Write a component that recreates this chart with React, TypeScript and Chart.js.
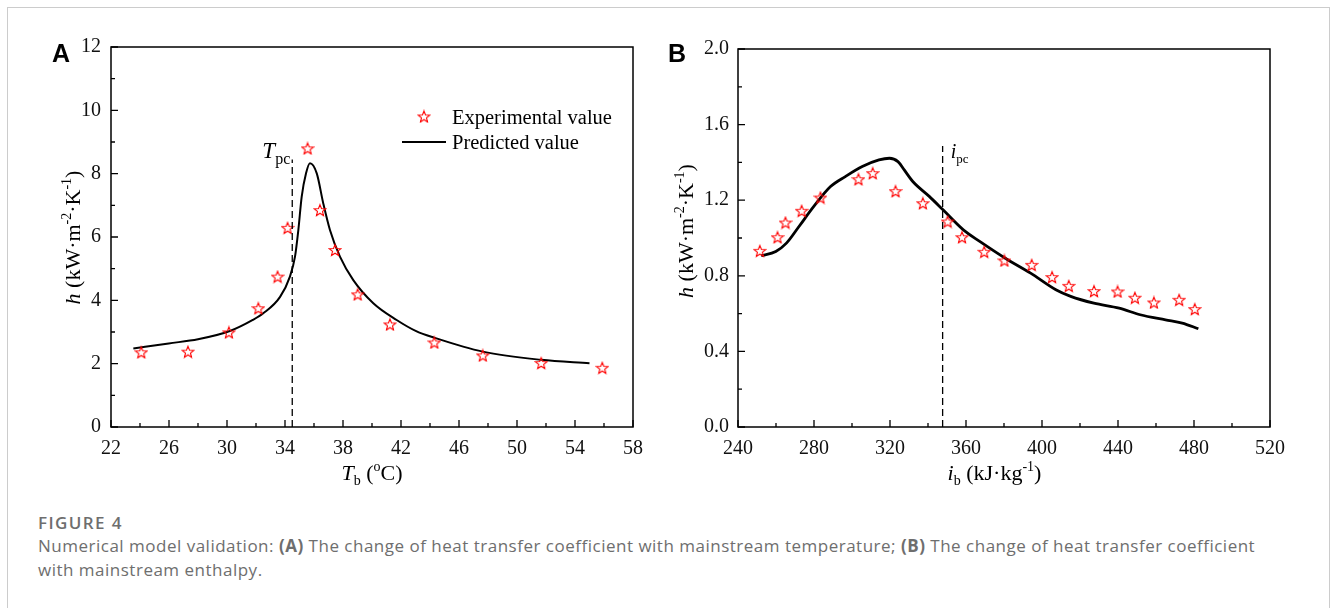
import React, { useEffect, useRef } from "react";
import { Chart, registerables } from "chart.js";
Chart.register(...registerables);

// ---------- Panel A data ----------
const A_EXP_T = [24.09, 27.31, 30.13, 32.16, 33.49, 34.18, 35.56, 36.41, 37.45, 39.01, 41.24, 44.3, 47.64, 51.67, 55.88];
const A_EXP_H = [2.36, 2.38, 2.99, 3.75, 4.75, 6.29, 8.8, 6.85, 5.59, 4.19, 3.24, 2.67, 2.26, 2.02, 1.87];
const A_PRED_T = [23.54, 25.98, 28.0, 30.2, 31.78, 32.5, 33.66, 34.34, 34.69, 34.92, 35.15, 35.45, 35.72, 36.19, 36.64, 37.1, 37.79, 38.71, 40.09, 41.7, 43.08, 44.3, 47.64, 51.67, 55.0];
const A_PRED_H = [2.48, 2.64, 2.77, 3.03, 3.38, 3.59, 4.11, 4.75, 5.38, 6.22, 7.27, 8.01, 8.33, 8.01, 7.06, 6.22, 5.38, 4.64, 3.91, 3.38, 3.02, 2.82, 2.38, 2.12, 2.01];
const A_X_TICKS = [22, 26, 30, 34, 38, 42, 46, 50, 54, 58];
const A_Y_TICKS = [0, 2, 4, 6, 8, 10, 12];
const A_TPC = 34.5;
const A_TPC_TOP = 8.45;

// ---------- Panel B data ----------
const B_EXP_I = [251.5, 260.8, 265.0, 273.5, 283.4, 303.4, 310.9, 322.9, 337.3, 350.3, 357.9, 369.6, 380.2, 394.6, 405.3, 414.1, 427.4, 439.8, 448.9, 458.9, 472.2, 480.4];
const B_EXP_H = [0.932, 1.004, 1.082, 1.144, 1.214, 1.311, 1.343, 1.248, 1.184, 1.087, 1.004, 0.927, 0.881, 0.858, 0.793, 0.747, 0.719, 0.717, 0.684, 0.659, 0.673, 0.624];
const B_PRED_I = [252.2, 259.9, 265.5, 272.1, 279.9, 288.7, 296.5, 305.4, 314.2, 319.7, 324.2, 327.5, 332.0, 340.8, 347.9, 358.6, 367.4, 380.7, 394.0, 407.3, 415.1, 427.3, 440.6, 451.7, 465.0, 473.8, 482.3];
const B_PRED_H = [0.906, 0.929, 0.973, 1.061, 1.167, 1.272, 1.325, 1.378, 1.413, 1.422, 1.404, 1.36, 1.299, 1.219, 1.149, 1.043, 0.981, 0.893, 0.814, 0.726, 0.691, 0.655, 0.629, 0.594, 0.567, 0.55, 0.52];
const B_X_TICKS = [240, 280, 320, 360, 400, 440, 480, 520];
const B_Y_TICKS = [0, 0.4, 0.8, 1.2, 1.6, 2.0];
const B_IPC = 347.7;
const B_IPC_TOP = 1.487;

const SERIF = '"Liberation Serif", "Times New Roman", serif';
const SANS = '"Liberation Sans", Arial, sans-serif';

type Seg = { t: string; font: string; dy?: number };

function drawRich(ctx: CanvasRenderingContext2D, segs: Seg[], x: number, y: number, align: "left" | "center" | "right") {
  let w = 0;
  for (const s of segs) {
    ctx.font = s.font;
    w += ctx.measureText(s.t).width;
  }
  let cx = align === "center" ? x - w / 2 : align === "right" ? x - w : x;
  ctx.textAlign = "left";
  ctx.textBaseline = "alphabetic";
  for (const s of segs) {
    ctx.font = s.font;
    ctx.fillText(s.t, cx, y + (s.dy || 0));
    cx += ctx.measureText(s.t).width;
  }
}

function makeStar(): HTMLCanvasElement {
  const c = document.createElement("canvas");
  c.width = 14;
  c.height = 14;
  const g = c.getContext("2d")!;
  g.beginPath();
  for (let i = 0; i < 10; i++) {
    const r = i % 2 === 0 ? 6 : 2.6;
    const a = -Math.PI / 2 + (i * Math.PI) / 5;
    const px = 7 + r * Math.cos(a);
    const py = 7.6 + r * Math.sin(a);
    if (i === 0) g.moveTo(px, py);
    else g.lineTo(px, py);
  }
  g.closePath();
  g.strokeStyle = "#ff0000";
  g.lineWidth = 1.1;
  g.stroke();
  return c;
}

type Area = { left: number; top: number; right: number; bottom: number };

interface PanelOpts {
  W: number;
  H: number;
  area: Area;
  xMin: number;
  xMax: number;
  yMin: number;
  yMax: number;
  xTicks: number[];
  yTicks: number[];
  xFmt: (v: number) => string;
  yFmt: (v: number) => string;
  xPad: number;
  yPad: number;
  expX: number[];
  expY: number[];
  predX: number[];
  predY: number[];
  predWidth: number;
  deco: (chart: any) => void;
}

const XH = 40;

function buildConfig(o: PanelOpts, star: HTMLCanvasElement): any {
  const tickFont = { family: SERIF, size: 20 };
  const deco = {
    id: "deco",
    afterDraw(chart: any) {
      const { ctx, chartArea: a, scales } = chart;
      const x = scales.x;
      const y = scales.y;
      ctx.save();
      ctx.strokeStyle = "#000";
      ctx.lineWidth = 1.5;
      ctx.strokeRect(a.left, a.top, a.right - a.left, a.bottom - a.top);
      ctx.lineWidth = 1.3;
      ctx.beginPath();
      const xt = o.xTicks;
      for (let i = 0; i < xt.length; i++) {
        const px = x.getPixelForValue(xt[i]);
        ctx.moveTo(px, a.bottom);
        ctx.lineTo(px, a.bottom - 7);
        if (i < xt.length - 1) {
          const m = x.getPixelForValue((xt[i] + xt[i + 1]) / 2);
          ctx.moveTo(m, a.bottom);
          ctx.lineTo(m, a.bottom - 4);
        }
      }
      const yt = o.yTicks;
      for (let i = 0; i < yt.length; i++) {
        const py = y.getPixelForValue(yt[i]);
        ctx.moveTo(a.left, py);
        ctx.lineTo(a.left + 7, py);
        if (i < yt.length - 1) {
          const m = y.getPixelForValue((yt[i] + yt[i + 1]) / 2);
          ctx.moveTo(a.left, m);
          ctx.lineTo(a.left + 4, m);
        }
      }
      ctx.stroke();
      ctx.fillStyle = "#000";
      o.deco(chart);
      ctx.restore();
    },
  };
  return {
    type: "scatter",
    data: {
      datasets: [
        {
          label: "Experimental value",
          data: o.expX.map((v, i) => ({ x: v, y: o.expY[i] })),
          pointStyle: star,
          pointRadius: 6,
          showLine: false,
          borderColor: "#ff0000",
          backgroundColor: "#ff0000",
        },
        {
          label: "Predicted value",
          data: o.predX.map((v, i) => ({ x: v, y: o.predY[i] })),
          showLine: true,
          pointRadius: 0,
          borderColor: "#000",
          borderWidth: o.predWidth,
          cubicInterpolationMode: "monotone",
          fill: false,
        },
      ],
    },
    options: {
      responsive: false,
      animation: false,
      events: [],
      layout: {
        padding: {
          left: 0,
          top: o.area.top,
          right: o.W - o.area.right,
          bottom: o.H - o.area.bottom - XH,
        },
      },
      plugins: { legend: { display: false }, tooltip: { enabled: false } },
      scales: {
        x: {
          type: "linear",
          min: o.xMin,
          max: o.xMax,
          afterBuildTicks: (s: any) => {
            s.ticks = o.xTicks.map((v) => ({ value: v }));
          },
          afterFit: (s: any) => {
            s.height = XH;
          },
          grid: { display: false, drawTicks: false },
          border: { display: false },
          ticks: {
            font: tickFont,
            color: "#111",
            padding: o.xPad,
            maxRotation: 0,
            autoSkip: false,
            callback: (v: any) => o.xFmt(Number(v)),
          },
        },
        y: {
          type: "linear",
          min: o.yMin,
          max: o.yMax,
          afterBuildTicks: (s: any) => {
            s.ticks = o.yTicks.map((v) => ({ value: v }));
          },
          afterFit: (s: any) => {
            s.width = o.area.left;
          },
          grid: { display: false, drawTicks: false },
          border: { display: false },
          ticks: {
            font: tickFont,
            color: "#111",
            padding: o.yPad,
            autoSkip: false,
            callback: (v: any) => o.yFmt(Number(v)),
          },
        },
      },
    },
    plugins: [deco],
  };
}

function decoA(star: HTMLCanvasElement) {
  return (chart: any) => {
    const { ctx, scales } = chart;
    const x = scales.x;
    const y = scales.y;
    // dashed Tpc line
    const px = x.getPixelForValue(A_TPC);
    ctx.save();
    ctx.setLineDash([7, 4]);
    ctx.lineWidth = 1.3;
    ctx.beginPath();
    ctx.moveTo(px, y.getPixelForValue(0));
    ctx.lineTo(px, y.getPixelForValue(A_TPC_TOP));
    ctx.stroke();
    ctx.restore();
    const topPx = y.getPixelForValue(A_TPC_TOP);
    drawRich(ctx, [
      { t: "T", font: `italic 23px ${SERIF}` },
      { t: "pc", font: `16px ${SERIF}`, dy: 6 },
    ], px - 2, topPx - 1, "right");
    // legend
    ctx.drawImage(star, 424 - 7, 117 - 7.6);
    ctx.font = `20.5px ${SERIF}`;
    ctx.textAlign = "left";
    ctx.textBaseline = "alphabetic";
    ctx.fillText("Experimental value", 452, 124);
    ctx.fillText("Predicted value", 452, 149);
    ctx.save();
    ctx.lineWidth = 2;
    ctx.beginPath();
    ctx.moveTo(402, 142);
    ctx.lineTo(446, 142);
    ctx.stroke();
    ctx.restore();
    // axis titles
    drawRich(ctx, [
      { t: "T", font: `italic 22px ${SERIF}` },
      { t: "b", font: `14px ${SERIF}`, dy: 5 },
      { t: " (", font: `22px ${SERIF}` },
      { t: "o", font: `14px ${SERIF}`, dy: -9 },
      { t: "C)", font: `22px ${SERIF}` },
    ], 372, 480, "center");
    ctx.save();
    ctx.translate(80, 237.5);
    ctx.rotate(-Math.PI / 2);
    drawRich(ctx, [
      { t: "h", font: `italic 22px ${SERIF}` },
      { t: " (kW·m", font: `22px ${SERIF}` },
      { t: "-2", font: `14px ${SERIF}`, dy: -9 },
      { t: "·K", font: `22px ${SERIF}` },
      { t: "-1", font: `14px ${SERIF}`, dy: -9 },
      { t: ")", font: `22px ${SERIF}` },
    ], 0, 0, "center");
    ctx.restore();
    ctx.font = `bold 25px ${SANS}`;
    ctx.fillText("A", 52, 62);
  };
}

function decoB() {
  return (chart: any) => {
    const { ctx, scales } = chart;
    const x = scales.x;
    const y = scales.y;
    const px = x.getPixelForValue(B_IPC);
    ctx.save();
    ctx.setLineDash([7, 4]);
    ctx.lineWidth = 1.3;
    ctx.beginPath();
    ctx.moveTo(px, y.getPixelForValue(0));
    ctx.lineTo(px, y.getPixelForValue(B_IPC_TOP));
    ctx.stroke();
    ctx.restore();
    drawRich(ctx, [
      { t: "i", font: `italic 20px ${SERIF}` },
      { t: "pc", font: `13px ${SERIF}`, dy: 5 },
    ], px + 8, 158, "left");
    drawRich(ctx, [
      { t: "i", font: `italic 22px ${SERIF}` },
      { t: "b", font: `14px ${SERIF}`, dy: 5 },
      { t: " (kJ·kg", font: `22px ${SERIF}` },
      { t: "-1", font: `14px ${SERIF}`, dy: -9 },
      { t: ")", font: `22px ${SERIF}` },
    ], 329.5, 480, "center");
    ctx.save();
    ctx.translate(28, 231);
    ctx.rotate(-Math.PI / 2);
    drawRich(ctx, [
      { t: "h", font: `italic 22px ${SERIF}` },
      { t: " (kW·m", font: `22px ${SERIF}` },
      { t: "-2", font: `14px ${SERIF}`, dy: -9 },
      { t: "·K", font: `22px ${SERIF}` },
      { t: "-1", font: `14px ${SERIF}`, dy: -9 },
      { t: ")", font: `22px ${SERIF}` },
    ], 0, 0, "center");
    ctx.restore();
    ctx.font = `bold 25px ${SANS}`;
    ctx.textAlign = "left";
    ctx.fillText("B", 3, 62);
  };
}

const CAPTION_COLOR = "#6e6e6e";

export default function App() {
  const refA = useRef<HTMLCanvasElement>(null);
  const refB = useRef<HTMLCanvasElement>(null);

  useEffect(() => {
    const star = makeStar();
    const ca = new Chart(
      refA.current!,
      buildConfig(
        {
          W: 665,
          H: 500,
          area: { left: 111, top: 47, right: 633, bottom: 427 },
          xMin: 22,
          xMax: 58,
          yMin: 0,
          yMax: 12,
          xTicks: A_X_TICKS,
          yTicks: A_Y_TICKS,
          xFmt: (v) => String(v),
          yFmt: (v) => String(v),
          xPad: 10,
          yPad: 10,
          expX: A_EXP_T,
          expY: A_EXP_H,
          predX: A_PRED_T,
          predY: A_PRED_H,
          predWidth: 2,
          deco: decoA(star),
        },
        star
      )
    );
    const cb = new Chart(
      refB.current!,
      buildConfig(
        {
          W: 666,
          H: 500,
          area: { left: 73, top: 49, right: 605, bottom: 427 },
          xMin: 240,
          xMax: 520,
          yMin: 0,
          yMax: 2,
          xTicks: B_X_TICKS,
          yTicks: B_Y_TICKS,
          xFmt: (v) => String(v),
          yFmt: (v) => v.toFixed(1),
          xPad: 10,
          yPad: 9,
          expX: B_EXP_I,
          expY: B_EXP_H,
          predX: B_PRED_I,
          predY: B_PRED_H,
          predWidth: 2.8,
          deco: decoB(),
        },
        star
      )
    );
    return () => {
      ca.destroy();
      cb.destroy();
    };
  }, []);

  return (
    <div style={{ position: "absolute", left: 0, top: 0, width: 1331, height: 608, overflow: "hidden", background: "#fff" }}>
      <div
        style={{
          position: "absolute",
          left: 7,
          top: 7,
          width: 1323,
          height: 700,
          border: "1px solid #cccccc",
          boxSizing: "border-box",
        }}
      />
      <canvas ref={refA} width={665} height={500} style={{ position: "absolute", left: 0, top: 0, width: 665, height: 500 }} />
      <canvas ref={refB} width={666} height={500} style={{ position: "absolute", left: 665, top: 0, width: 666, height: 500 }} />
      <div
        style={{
          position: "absolute",
          left: 38,
          top: 510.5,
          fontFamily: '"Open Sans", sans-serif',
          fontWeight: 600,
          fontSize: 17,
          lineHeight: "23.5px",
          letterSpacing: "1.4px",
          color: CAPTION_COLOR,
          whiteSpace: "nowrap",
        }}
      >
        FIGURE 4
      </div>
      <div
        style={{
          position: "absolute",
          left: 38,
          top: 534,
          fontFamily: '"Open Sans", sans-serif',
          fontWeight: 400,
          fontSize: 17,
          lineHeight: "23.5px",
          letterSpacing: "0.5px",
          color: CAPTION_COLOR,
          whiteSpace: "nowrap",
        }}
      >
        Numerical model validation: <b>(A)</b> The change of heat transfer coefficient with mainstream temperature; <b>(B)</b> The change of heat transfer coefficient
        <br />
        with mainstream enthalpy.
      </div>
    </div>
  );
}
